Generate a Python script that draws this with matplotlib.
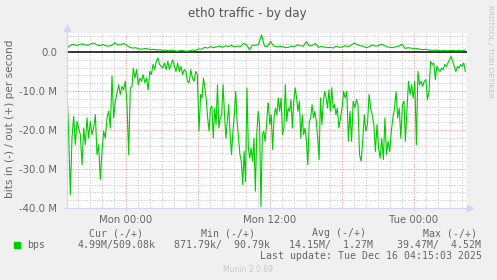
import numpy as np
import matplotlib
matplotlib.use("Agg")
import matplotlib.pyplot as plt

# eth0 traffic, Munin "by day" graph
# hours are relative to Mon 00:00, traffic in Mbit/s

# received (drawn below zero) in six stretches
in_sun_evening = [9.7, 21.0, 36.6, 22.0, 16.5, 23.8, 17.8, 19.5, 21.2, 28.9,
                  19.5, 23.8, 16.9, 22.1, 17.8, 21.2, 19.5, 16.1, 26.3, 23.8,
                  32.7, 25.5, 20.3, 22.1, 16.9, 15.2, 19.5, 6.2, 16.9, 12.6,
                  10.5, 8.4, 10.9, 8.8, 9.7, 7.5, 13.5, 26.3, 9.2, 8.8]
in_mon_night = [4.1, 6.7, 4.5, 8.4, 6.7, 7.5, 5.8, 7.9, 6.7, 9.7,
                5.0, 5.8, 3.2, 4.5, 2.4, 1.5, 3.2, 3.7, 4.1, 2.8,
                4.5, 2.4, 4.5, 3.2, 2.0, 3.7, 5.0, 2.8, 5.0, 3.7,
                5.8, 4.5, 5.0, 7.5, 7.9, 4.5, 6.7, 7.5, 5.0, 5.8, 20.3]
in_mon_morning = [10.9, 11.8, 6.7, 9.2, 12.2, 16.9, 20.3, 14.4, 13.9, 22.1,
                  14.4, 18.6, 8.4, 19.5, 16.9, 16.1, 8.4, 16.1, 22.1, 17.8,
                  13.5, 21.2, 26.3, 20.3, 16.1, 10.1, 17.8, 22.1, 26.3, 28.0,
                  34.0, 25.5, 33.2, 9.2, 24.6, 27.2, 24.6, 28.0, 22.1, 35.7,
                  21.2, 15.2, 18.6, 39.6, 21.2, 20.3, 22.9, 18.6, 13.1]
in_mon_afternoon = [13.1, 18.6, 16.1, 25.0, 16.9, 14.4, 16.1, 11.8, 15.2, 11.8,
                    21.2, 19.5, 8.4, 17.8, 14.4, 15.2, 12.2, 19.5, 12.6, 9.2,
                    11.8, 15.2, 12.6, 22.1, 16.1, 21.2, 19.5, 22.9, 28.9, 17.8,
                    16.9, 13.5, 16.9, 15.2, 17.8, 22.1, 27.6, 11.8, 18.6, 12.6,
                    10.1, 11.8, 14.4, 9.7, 15.2, 9.2, 14.4, 13.5, 16.1]
in_mon_evening = [14.4, 19.5, 16.9, 14.4, 10.1, 11.8, 10.1, 22.9, 15.2, 22.9,
                  12.6, 14.4, 12.2, 13.5, 26.3, 28.0, 22.9, 16.1, 20.3, 18.6,
                  10.9, 14.4, 16.1, 18.6, 25.5, 18.6, 24.6, 27.2, 22.1, 27.6,
                  16.9, 26.3, 22.9, 25.5, 20.3, 16.9, 14.4, 10.1, 16.9, 14.4,
                  22.1, 13.5, 12.6]
in_tue_night = [22.9, 15.2, 7.5, 10.9, 8.4, 11.8, 7.5, 23.8, 5.0, 8.4,
                7.5, 8.8, 7.5, 7.1, 12.2, 10.1, 2.4, 3.2, 2.8, 7.1,
                3.7, 4.5, 5.0, 4.1, 4.5, 3.2, 3.7, 2.8, 2.0, 1.1,
                2.4, 3.7, 5.0, 3.7, 4.1, 3.2, 3.7, 2.8, 5.0]
in_spans = [(-4.917, 0.5), (0.611, 6.083), (6.222, 11.833),
            (11.87, 17.5), (17.61, 23.17), (23.28, 28.28)]

# sent (drawn above zero)
out_mbps = [1.0, 1.6, 2.0, 1.7, 1.8, 2.1, 1.9, 1.7, 2.1, 2.3,
            1.8, 1.6, 1.9, 1.6, 1.5, 1.7, 2.4, 1.8, 1.9, 2.2,
            1.7, 1.2, 1.0, 1.1, 0.8, 0.7, 0.9, 0.8, 0.6, 0.7,
            0.5, 0.6, 0.4, 0.5, 0.3, 0.5, 0.3, 0.2, 0.4, 0.3,
            0.2, 0.3, 0.5, 0.4, 0.8, 0.7, 1.2, 1.0, 1.4, 1.1,
            1.3, 1.5, 1.2, 1.6, 1.4, 1.7, 1.3, 1.5, 1.4, 2.2,
            1.9, 0.6, 1.8, 1.7, 1.9, 4.4, 1.5, 1.4, 2.7, 1.6,
            1.3, 1.5, 1.4, 1.1, 1.2, 1.5, 1.4, 1.8, 1.6, 1.5,
            2.7, 1.5, 1.7, 2.2, 1.2, 1.4, 1.3, 1.1, 1.2, 1.0,
            1.5, 1.2, 1.3, 1.6, 1.4, 1.8, 2.3, 1.9, 1.6, 1.5,
            1.1, 1.4, 1.8, 1.5, 1.6, 2.0, 1.7, 1.3, 1.2, 1.1,
            1.4, 1.5, 2.0, 0.9, 1.1, 1.0, 0.8, 0.9, 0.7, 0.6,
            0.7, 0.5, 0.4, 0.5, 0.4, 0.3, 0.4, 0.3, 0.4, 0.4,
            0.3, 0.4, 0.3, 0.5]
out_span = (-4.917, 28.25)

x_ticks = [0, 12, 24]
x_tick_labels = ["Mon 00:00", "Mon 12:00", "Tue 00:00"]
y_ticks = [0, -10, -20, -30, -40]
y_tick_labels = ["0.0", "-10.0 M", "-20.0 M", "-30.0 M", "-40.0 M"]

legend_head = ["Cur (-/+)", "Min (-/+)", "Avg (-/+)", "Max (-/+)"]
legend_vals = ["4.99M/509.08k", "871.79k/  90.79k", "14.15M/  1.27M", "39.47M/  4.52M"]

GREEN = "#00cc00"
FONT = "#666666"
AXIS = "#cfd6f8"

W, H = 497, 280
fig = plt.figure(figsize=(W / 100, H / 100), dpi=100, facecolor="#f0f0f0")
ax = fig.add_axes([67 / W, 1 - 208 / H, 400 / W, 175 / H])
ax.set_facecolor("white")
ax.set_xlim(-4.917, 28.42)
ax.set_ylim(-40, 4.87)

# grid: minor grey every hour / 2M, major red every 6h / 10M
dots = (0, (1.4, 1.4))
for h in np.arange(-4, 29, 1):
    if h % 6 == 0:
        ax.axvline(h, color="#f2a0a0", lw=0.7, ls=dots, zorder=1)
    else:
        ax.axvline(h, color="#cccccc", lw=0.7, ls=dots, zorder=1)
for v in np.arange(-40, 5, 2):
    if v == 0:
        continue
    if v % 10 == 0:
        ax.axhline(v, color="#f2a0a0", lw=0.7, ls=dots, zorder=1)
    else:
        ax.axhline(v, color="#cccccc", lw=0.7, ls=dots, zorder=1)

ax.axhline(0, color="black", lw=1.1, zorder=3)

segs = [in_sun_evening, in_mon_night, in_mon_morning,
        in_mon_afternoon, in_mon_evening, in_tue_night]
in_t = np.concatenate([np.linspace(a, b, len(s)) for (a, b), s in zip(in_spans, segs)])
in_v = np.concatenate([np.array(s) for s in segs])
ax.plot(in_t, -in_v, color=GREEN, lw=0.8, zorder=4)

out_t = np.linspace(out_span[0], out_span[1], len(out_mbps))
ax.plot(out_t, out_mbps, color=GREEN, lw=0.8, zorder=4)

for s in ["top", "right"]:
    ax.spines[s].set_visible(False)
for s in ["left", "bottom"]:
    ax.spines[s].set_color(AXIS)
    ax.spines[s].set_linewidth(0.8)
    ax.spines[s].set_zorder(5)
ax.spines["left"].set_bounds(-40, 4.87 + 5 / 3.9)
ax.spines["bottom"].set_bounds(-4.917, 28.42 + 3 / 12)
ax.plot([-4.917], [4.87 + 5 / 3.9], marker="^", color=AXIS, ms=4, clip_on=False, zorder=6)
ax.plot([28.42 + 3 / 12], [-40], marker=">", color=AXIS, ms=4, clip_on=False, zorder=6)

ax.set_xticks(x_ticks)
ax.set_xticklabels(x_tick_labels)
ax.set_yticks(y_ticks)
ax.set_yticklabels(y_tick_labels)
ax.tick_params(axis="both", colors=AXIS, labelcolor=FONT, labelsize=7.3, length=2, width=0.8)
ax.tick_params(axis="x", pad=3)
ax.tick_params(axis="y", pad=5)

fig.text(247.5 / W, 1 - 14 / H, "eth0 traffic - by day", ha="center", va="center",
         fontsize=8.6, color="#555555")
fig.text(10 / W, 1 - 119 / H, "bits in (-) / out (+) per second", rotation=90,
         ha="center", va="center", fontsize=7.6, color=FONT)
fig.text(490 / W, 1 - 5 / H, "RRDTOOL / TOBI OETIKER", rotation=270,
         ha="center", va="top", fontsize=5.2, color="#c0c0c0")

# legend block
mono = "DejaVu Sans Mono"
fig.patches.append(plt.Rectangle((14 / W, 1 - 248 / H), 6 / W, 6 / H,
                                 transform=fig.transFigure, color=GREEN))
fig.text(27 / W, 1 - 245 / H, "bps", ha="left", va="center", fontsize=7.1,
         family=mono, color=FONT)
head_x = [89, 200.7, 312, 423]
val_x = [78, 174, 289, 397]
for hx, t in zip(head_x, legend_head):
    fig.text(hx / W, 1 - 233 / H, t, ha="left", va="center", fontsize=7.1,
             family=mono, color=FONT)
for vx, t in zip(val_x, legend_vals):
    fig.text(vx / W, 1 - 245 / H, t, ha="left", va="center", fontsize=7.1,
             family=mono, color=FONT)
fig.text(482 / W, 1 - 256 / H, "Last update: Tue Dec 16 04:15:03 2025",
         ha="right", va="center", fontsize=7.1, family=mono, color=FONT)
fig.text(248 / W, 1 - 269 / H, "Munin 2.0.69", ha="center", va="center",
         fontsize=5.5, color="#c8c8c8")

fig.savefig("out.png", dpi=100, facecolor=fig.get_facecolor())
